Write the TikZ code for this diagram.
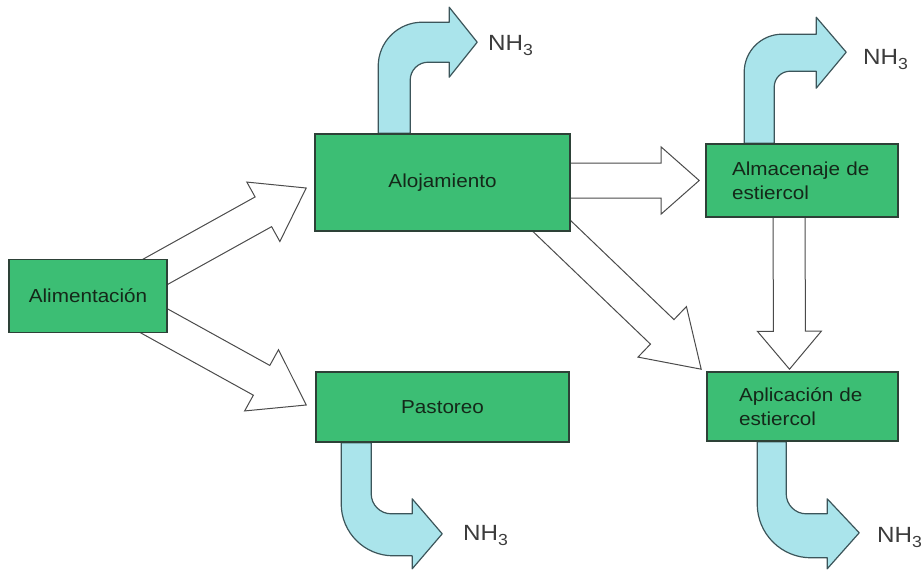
\documentclass[tikz,border=0pt]{standalone}
\usepackage{fontspec}
\setmainfont{Liberation Sans}[FakeStretch=1.1]
\usetikzlibrary{calc}
\definecolor{boxgreen}{RGB}{60,190,116}
\definecolor{nhblue}{RGB}{170,228,235}
\definecolor{boxline}{RGB}{45,65,55}
\definecolor{arrline}{RGB}{75,75,75}
\definecolor{nhline}{RGB}{60,85,90}
\definecolor{txtdark}{RGB}{20,40,25}
\definecolor{nhtext}{RGB}{60,60,60}
% #1 tail, #2 tip, #3 half shaft, #4 half head, #5 head length, #6 name
\newcommand{\fatarrow}[6]{%
  \coordinate (#6h) at ($(#2)!#5!(#1)$);
  \draw[fat] ($(#1)!#3!90:(#2)$) -- ($(#6h)!#3!90:(#2)$) -- ($(#6h)!#4!90:(#2)$)
    -- (#2) -- ($(#6h)!#4!-90:(#2)$) -- ($(#6h)!#3!-90:(#2)$) -- ($(#1)!#3!-90:(#2)$) -- cycle;
}
\newcommand{\nhsub}{\raisebox{-5pt}{\fontsize{16}{16}\selectfont 3}}
\begin{document}
\begin{tikzpicture}[x=1pt,y=-1pt,
  box/.style={draw=boxline, line width=1.6pt, fill=boxgreen, text=txtdark,
    font=\fontsize{18.8}{24}\selectfont, inner sep=0pt},
  fat/.style={draw=arrline, line width=1pt, fill=white, line join=miter},
  nh/.style={draw=nhline, fill=nhblue, line width=1.2pt, line join=round},
  nhlabel/.style={anchor=base west, text=nhtext, font=\fontsize{22}{22}\selectfont, inner sep=0pt}]
\useasboundingbox (0,0) rectangle (923,570);

% boxes (placed first as path-less nodes for coordinates)
\path
  node[box, minimum width=158pt, minimum height=73pt] (ali) at (88,296) {Alimentación}
  node[box, minimum width=255pt, minimum height=97pt] (alo) at (442.5,182.5) {Alojamiento}
  node[box, minimum width=253pt, minimum height=70pt] (pas) at (442.5,407) {Pastoreo}
  node[box, minimum width=192pt, minimum height=73pt, text width=140pt, align=left] (alm) at (802,180.5) {Almacenaje de\\estiercol}
  node[box, minimum width=191pt, minimum height=69pt, text width=127pt, align=left] (apl) at (802.5,406.5) {Aplicación de\\estiercol};

% tails and tips of the white arrows
\coordinate (t1) at ($(ali.center)+(49,-14)$);
\coordinate (p1) at ($(alo.west)+(-8,5.5)$);
\coordinate (t2) at ($(ali.center)+(46.5,14)$);
\coordinate (p2) at ($(pas.west)+(-9,-2)$);
\coordinate (t3) at ($(alo.east)+(-30,-2)$);
\coordinate (p3) at ($(alm.west)+(-6,0)$);
\coordinate (t4) at ($(alo.center)+(91,26)$);
\coordinate (p4) at ($(apl.north west)+(-5,-2)$);
\coordinate (t5) at ($(alm.south)+(-13,-20)$);
\coordinate (p5) at ($(apl.north)+(-13,-2)$);

\fatarrow{t1}{p1}{17pt}{34pt}{49pt}{a1}
\fatarrow{t2}{p2}{17pt}{35pt}{51pt}{a2}
\fatarrow{t3}{p3}{17.5pt}{33.5pt}{38pt}{a3}
\fatarrow{t4}{p4}{17pt}{35pt}{54pt}{a4}
\fatarrow{t5}{p5}{16pt}{32pt}{38pt}{a5}

% NH3 bent arrows
\draw[nh] ($(alo.north west)+(64,0)$) -- ++(0,-67)
  .. controls +(0,-24.3) and +(-24.3,0) .. ++(44,-44)
  -- ++(27,0) -- ++(0,-15) -- ++(28,35) -- ++(-28,35) -- ++(0,-15) -- ++(-21,0)
  .. controls +(-10,0) and +(0,-10) .. ++(-18,18) -- ++(0,53) -- cycle;
\draw[nh] ($(alm.north west)+(39,0)$) -- ++(0,-71)
  .. controls +(0,-21) and +(-21,0) .. ++(38,-38)
  -- ++(34,0) -- ++(0,-17) -- ++(30,35) -- ++(-30,36) -- ++(0,-17) -- ++(-26,0)
  .. controls +(-9,0) and +(0,-9) .. ++(-16,16) -- ++(0,56) -- cycle;
\draw[nh] ($(pas.south west)+(26,0)$) -- ++(0,61)
  .. controls +(0,28.7) and +(-28.7,0) .. ++(52,52)
  -- ++(19,0) -- ++(0,13) -- ++(30,-35) -- ++(-30,-35) -- ++(0,15) -- ++(-21,0)
  .. controls +(-11,0) and +(0,11) .. ++(-20,-20) -- ++(0,-51) -- cycle;
\draw[nh] ($(apl.south west)+(51,0)$) -- ++(0,62)
  .. controls +(0,30) and +(-30,0) .. ++(54,54)
  -- ++(16,0) -- ++(0,11) -- ++(32,-36) -- ++(-32,-34) -- ++(0,15) -- ++(-21,0)
  .. controls +(-11,0) and +(0,11) .. ++(-20,-20) -- ++(0,-52) -- cycle;

% boxes drawn on top
\node[box, minimum width=158pt, minimum height=73pt] at (ali.center) {Alimentación};
\node[box, minimum width=255pt, minimum height=97pt] at (alo.center) {Alojamiento};
\node[box, minimum width=253pt, minimum height=70pt] at (pas.center) {Pastoreo};
\node[box, minimum width=192pt, minimum height=73pt, text width=140pt, align=left] at (alm.center) {Almacenaje de\\estiercol};
\node[box, minimum width=191pt, minimum height=69pt, text width=127pt, align=left] at (apl.center) {Aplicación de\\estiercol};

% NH3 labels
\node[nhlabel] (nh1) at (488,50) {NH\nhsub};
\node[nhlabel] (nh2) at (863,64) {NH\nhsub};
\node[nhlabel] (nh3) at (463,540) {NH\nhsub};
\node[nhlabel] (nh4) at (877,542) {NH\nhsub};
\end{tikzpicture}
\end{document}
